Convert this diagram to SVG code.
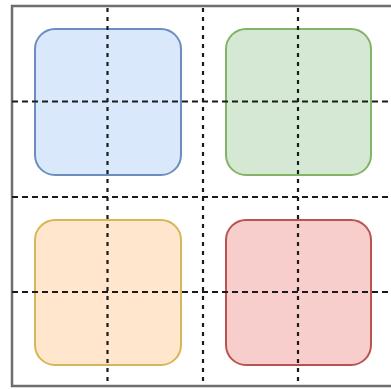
<svg xmlns="http://www.w3.org/2000/svg" width="391" height="389" viewBox="0 0 391 389">
  <style>
    .frame { fill: #ffffff; stroke: #6e6e6e; stroke-width: 2.5; }
    .tile { stroke-width: 2; }
    .guide { stroke: #1a1a1a; stroke-width: 2.2; fill: none; }
    .guide-h { stroke-dasharray: 6 4; }
    .guide-v { stroke-dasharray: 4 5; }
  </style>
  <rect class="frame" x="12" y="6" width="381" height="380"/>
  <g id="tile-blue"><rect class="tile" x="35" y="29" width="146" height="146" rx="20" fill="#dae8fc" stroke="#6c8ebf"/></g>
  <g id="tile-green"><rect class="tile" x="226" y="29" width="145" height="146" rx="20" fill="#d5e8d4" stroke="#82b366"/></g>
  <g id="tile-orange"><rect class="tile" x="35" y="220" width="146" height="145" rx="20" fill="#ffe6cc" stroke="#d6b656"/></g>
  <g id="tile-red"><rect class="tile" x="226" y="220" width="145" height="145" rx="20" fill="#f8cecc" stroke="#b85450"/></g>
  <g id="connectors">
    <line class="guide guide-v" x1="107.5" y1="8" x2="107.5" y2="386"/>
    <line class="guide guide-v" x1="203" y1="8" x2="203" y2="386"/>
    <line class="guide guide-v" x1="298" y1="8" x2="298" y2="386"/>
    <line class="guide guide-h" x1="12" y1="101.5" x2="393" y2="101.5"/>
    <line class="guide guide-h" x1="12" y1="197" x2="393" y2="197"/>
    <line class="guide guide-h" x1="12" y1="292" x2="393" y2="292"/>
  </g>
</svg>
